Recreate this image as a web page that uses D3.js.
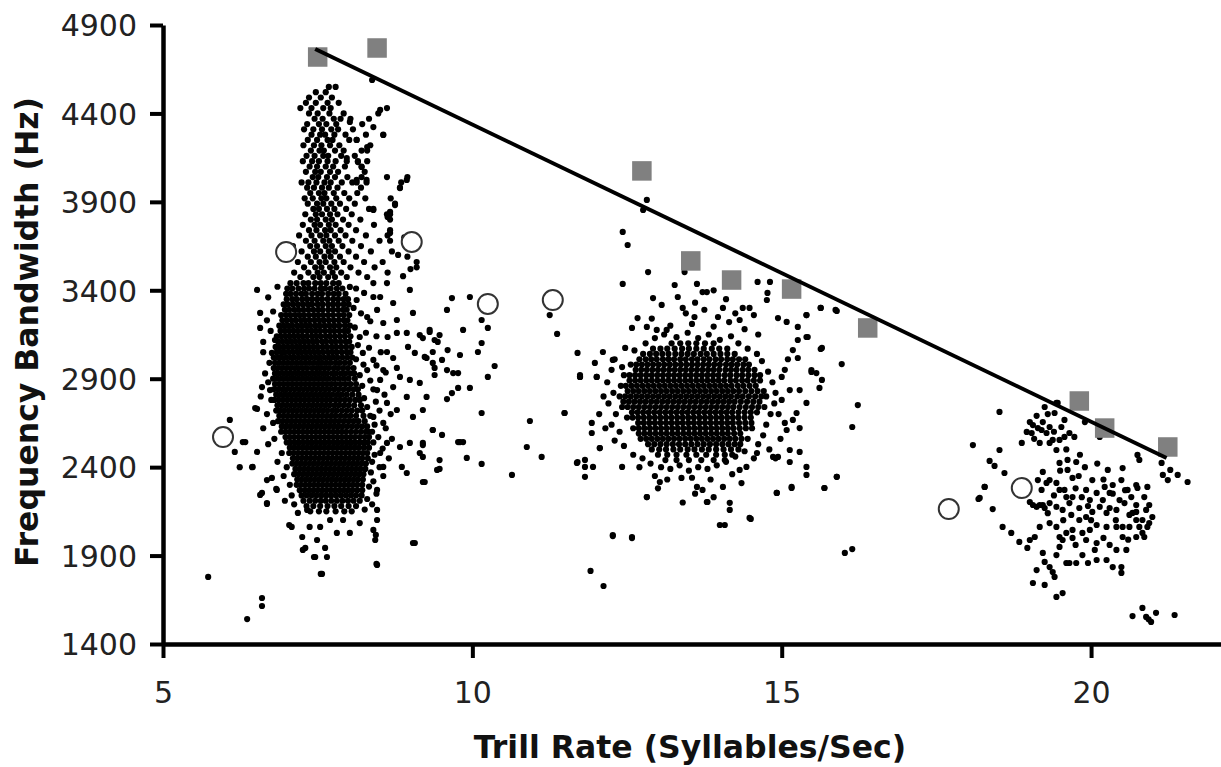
<!DOCTYPE html>
<html><head><meta charset="utf-8">
<script src="https://cdn.jsdelivr.net/npm/d3@7"></script>
<style>html,body{margin:0;padding:0;background:#fff;}svg{display:block;}</style>
</head><body>
<svg id="chart" width="1221" height="767"></svg>
<script>
// ---------- tick labels & titles ----------
const xTicks = [5, 10, 15, 20];
const yTicks = [1400, 1900, 2400, 2900, 3400, 3900, 4400, 4900];
const xTitle = "Trill Rate (Syllables/Sec)";
const yTitle = "Frequency Bandwidth (Hz)";

// ---------- grey squares ----------
const squareX = [7.50, 8.46, 12.74, 13.53, 14.19, 15.16, 16.39, 19.81, 20.22, 21.24];
const squareY = [4719, 4770, 4075, 3566, 3458, 3407, 3187, 2774, 2621, 2514];

// ---------- open circles ----------
const circleX = [5.97, 6.99, 9.02, 10.25, 11.30, 17.70, 18.88];
const circleY = [2570, 3616, 3673, 3323, 3345, 2163, 2282];

// ---------- regression line ----------
const fitX = [7.46, 21.22];
const fitY = [4764, 2452];

// ---------- song dots, rows: [y, x, x, ...] ----------
const westColumnRows = [
[4550,7.68,7.79],[4520,7.47,7.63],[4490,7.36,7.55,7.73],[4460,7.31,7.47,7.66,7.84],
[4430,7.22,7.40,7.59,7.71,8.62],[4400,7.36,7.50,7.69,7.92,8.48],[4370,7.45,7.58,7.76,7.87,8.03,8.33],
[4340,7.33,7.52,7.64,7.80,8.22],[4310,7.28,7.43,7.57,7.72,7.83,8.07],[4280,7.40,7.54,7.62,7.77,7.95,8.28,8.56],
[4250,7.34,7.49,7.66,7.74,8.01,8.13],[4220,7.27,7.44,7.56,7.70,7.85,8.35],[4190,7.39,7.53,7.60,7.78,7.92,8.21,8.30],
[4160,7.32,7.45,7.59,7.67,7.88,8.10],[4130,7.26,7.41,7.52,7.66,7.79,7.97,8.15,8.30],[4100,7.37,7.49,7.63,7.75,7.94,8.21],
[4070,7.31,7.46,7.55,7.70,7.83,8.26],[4040,7.42,7.51,7.65,7.78,7.98,8.21,8.62,8.95],[4010,7.24,7.35,7.48,7.61,7.71,7.89,8.06,8.13,8.29,8.85],
[3980,7.33,7.44,7.57,7.68,7.82,8.20,8.83],[3950,7.38,7.52,7.61,7.76,7.93,8.14],[3920,7.29,7.42,7.56,7.64,7.80,8.01,8.27,8.68],
[3890,7.34,7.49,7.59,7.72,7.86,8.10,8.75],[3860,7.43,7.52,7.65,7.77,7.96,8.33,8.40],[3830,7.30,7.47,7.57,7.70,7.82,8.05,8.62,8.67],
[3800,7.39,7.49,7.63,7.73,7.91,8.19,8.67],[3770,7.26,7.45,7.54,7.68,7.79,8.00,8.41],[3740,7.36,7.48,7.62,7.71,7.87,8.12,8.67],
[3710,7.20,7.40,7.54,7.64,7.78,7.95,8.28,8.63],[3680,7.31,7.45,7.59,7.69,7.84,8.06,8.50,8.67],[3650,7.10,7.38,7.49,7.63,7.73,7.90,8.20,8.92],
[3620,7.24,7.44,7.54,7.68,7.78,8.00,8.36,8.70],[3590,7.05,7.34,7.47,7.61,7.71,7.86,8.12,8.95],[3560,7.18,7.39,7.53,7.63,7.77,7.92,8.25,8.55],
[3530,7.28,7.46,7.56,7.70,7.80,8.03,8.42,9.10],[3500,7.12,7.35,7.50,7.60,7.74,7.88,8.16,8.63],[3475,7.22,7.43,7.53,7.67,7.78,7.97,8.30]
];
const westCoreRows = [
[3440,7.06,7.16,7.27,7.35,7.46,7.55,7.64,7.75,7.84],
[3410,7.01,7.09,7.19,7.28,7.36,7.45,7.55,7.62,7.71,7.81,7.90],
[3380,6.99,7.06,7.15,7.24,7.31,7.41,7.50,7.57,7.67,7.76,7.84,7.95],
[3350,7.00,7.09,7.16,7.25,7.33,7.41,7.49,7.57,7.66,7.75,7.83,7.92,7.99],
[3320,6.95,7.02,7.10,7.18,7.26,7.34,7.41,7.50,7.58,7.67,7.75,7.83,7.92,8.00],
[3290,6.97,7.04,7.12,7.19,7.27,7.35,7.43,7.51,7.58,7.67,7.75,7.83,7.91,7.97],
[3260,6.91,6.99,7.06,7.14,7.21,7.28,7.36,7.44,7.51,7.59,7.67,7.75,7.84,7.92,8.01],
[3230,6.93,7.00,7.08,7.15,7.23,7.30,7.37,7.45,7.53,7.60,7.68,7.76,7.84,7.92,7.98],
[3200,6.88,6.95,7.02,7.09,7.17,7.24,7.31,7.38,7.46,7.53,7.61,7.69,7.77,7.85,7.94,8.02],
[3170,6.90,6.97,7.04,7.11,7.18,7.25,7.33,7.40,7.47,7.54,7.62,7.70,7.77,7.85,7.93,7.99],
[3140,6.84,6.91,6.98,7.05,7.12,7.19,7.26,7.33,7.41,7.48,7.55,7.63,7.70,7.78,7.86,7.94,8.03],
[3110,6.86,6.93,7.00,7.07,7.14,7.21,7.28,7.35,7.42,7.49,7.57,7.64,7.72,7.79,7.87,7.95,8.01],
[3080,6.82,6.88,6.95,7.02,7.09,7.16,7.22,7.29,7.36,7.43,7.50,7.58,7.65,7.73,7.80,7.88,7.96,8.05],
[3050,6.84,6.91,6.97,7.04,7.11,7.18,7.24,7.31,7.38,7.45,7.52,7.59,7.67,7.74,7.81,7.89,7.97,8.03],
[3020,6.79,6.86,6.92,6.99,7.06,7.12,7.19,7.26,7.33,7.40,7.47,7.54,7.61,7.68,7.75,7.82,7.90,7.98,8.06],
[2990,6.81,6.88,6.95,7.02,7.09,7.16,7.23,7.30,7.37,7.44,7.51,7.57,7.64,7.71,7.79,7.86,7.94,8.02],
[2960,6.79,6.85,6.92,6.99,7.06,7.13,7.19,7.26,7.33,7.41,7.48,7.54,7.61,7.68,7.76,7.83,7.91,7.99,8.08],
[2930,6.81,6.88,6.95,7.02,7.09,7.16,7.23,7.30,7.37,7.44,7.51,7.58,7.65,7.73,7.80,7.88,7.95,8.03,8.09],
[2900,6.78,6.85,6.92,6.99,7.06,7.12,7.19,7.26,7.33,7.40,7.47,7.54,7.61,7.68,7.76,7.84,7.92,8.00,8.10],
[2870,6.81,6.88,6.95,7.02,7.09,7.16,7.23,7.30,7.37,7.44,7.51,7.58,7.65,7.72,7.79,7.87,7.95,8.03,8.12],
[2840,6.79,6.86,6.93,6.99,7.06,7.13,7.20,7.27,7.34,7.41,7.48,7.55,7.62,7.69,7.77,7.84,7.92,8.00,8.08,8.15],
[2810,6.83,6.90,6.97,7.04,7.11,7.18,7.25,7.32,7.39,7.46,7.53,7.60,7.67,7.74,7.82,7.89,7.97,8.06,8.16],
[2780,6.80,6.87,6.94,7.01,7.08,7.15,7.22,7.29,7.36,7.43,7.50,7.57,7.64,7.71,7.79,7.86,7.94,8.02,8.11,8.18],
[2750,6.85,6.92,6.99,7.06,7.13,7.20,7.27,7.34,7.41,7.48,7.55,7.62,7.69,7.77,7.84,7.92,8.00,8.09,8.20],
[2720,6.83,6.89,6.96,7.03,7.10,7.17,7.24,7.31,7.38,7.45,7.52,7.59,7.66,7.74,7.81,7.89,7.97,8.05,8.14,8.22],
[2690,6.88,6.95,7.02,7.09,7.16,7.23,7.30,7.37,7.44,7.51,7.58,7.65,7.72,7.79,7.87,7.95,8.03,8.12,8.24],
[2660,6.86,6.93,7.00,7.07,7.14,7.21,7.28,7.35,7.42,7.49,7.56,7.63,7.70,7.77,7.84,7.92,8.00,8.08,8.16,8.26],
[2630,6.92,6.99,7.06,7.13,7.20,7.27,7.34,7.41,7.48,7.55,7.62,7.69,7.76,7.83,7.90,7.98,8.06,8.14,8.22,8.30],
[2600,6.91,6.98,7.05,7.12,7.19,7.26,7.33,7.40,7.47,7.54,7.61,7.68,7.75,7.82,7.89,7.96,8.04,8.12,8.20,8.28,8.33],
[2570,6.98,7.05,7.12,7.19,7.26,7.33,7.40,7.47,7.54,7.61,7.68,7.75,7.82,7.89,7.96,8.03,8.10,8.18,8.26,8.33],
[2540,7.00,7.06,7.13,7.20,7.27,7.34,7.41,7.48,7.55,7.62,7.69,7.76,7.83,7.90,7.97,8.04,8.11,8.18,8.25,8.31],
[2510,7.05,7.12,7.19,7.26,7.33,7.40,7.47,7.54,7.61,7.68,7.75,7.82,7.89,7.96,8.03,8.10,8.17,8.25,8.33],
[2480,7.04,7.11,7.18,7.25,7.32,7.39,7.46,7.53,7.60,7.67,7.74,7.81,7.88,7.95,8.02,8.09,8.16,8.23,8.30],
[2450,7.10,7.17,7.24,7.31,7.38,7.45,7.52,7.59,7.66,7.73,7.80,7.87,7.94,8.01,8.08,8.15,8.22,8.31],
[2420,7.09,7.16,7.23,7.30,7.37,7.44,7.51,7.58,7.65,7.72,7.79,7.86,7.93,8.00,8.07,8.14,8.21,8.28],
[2390,7.14,7.21,7.28,7.35,7.42,7.49,7.56,7.63,7.70,7.77,7.84,7.91,7.98,8.05,8.12,8.19,8.27],
[2360,7.12,7.19,7.26,7.33,7.40,7.47,7.54,7.61,7.68,7.75,7.82,7.89,7.96,8.03,8.10,8.17,8.24],
[2330,7.17,7.24,7.31,7.38,7.45,7.52,7.59,7.66,7.73,7.80,7.87,7.94,8.01,8.08,8.15,8.23],
[2300,7.16,7.23,7.30,7.37,7.44,7.51,7.58,7.65,7.72,7.79,7.86,7.93,8.00,8.07,8.14,8.22],
[2270,7.21,7.29,7.36,7.43,7.50,7.57,7.64,7.71,7.78,7.85,7.92,7.99,8.06,8.14,8.22],
[2240,7.24,7.32,7.40,7.48,7.56,7.64,7.72,7.80,7.88,7.96,8.04,8.12,8.21],
[2210,7.27,7.37,7.46,7.55,7.63,7.72,7.81,7.90,7.99,8.08,8.18],
[2180,7.32,7.43,7.54,7.66,7.77,7.88,8.00,8.12],
[2150,7.38,7.52,7.64,7.79,7.93,8.05]
];
const westScatter = [
[8.99,3402],[9.04,3272],[9.31,3176],[9.39,3119],[9.15,3147],[8.94,3159],[8.78,3159],[8.63,3136],[8.56,3215],
[8.51,3362],[8.40,3362],[8.46,3289],[8.72,3328],[8.78,3232],[8.96,3080],[9.07,3046],[9.23,3023],[9.36,2989],
[8.62,3051],[8.72,3017],[8.78,2961],[8.56,2949],[8.83,2910],[8.99,2893],[9.15,2876],[9.26,2797],[8.94,2797],
[8.72,2853],[8.51,2893],[8.40,3006],[8.30,2949],[8.46,2836],[8.62,2763],[8.78,2723],[9.04,2684],[9.20,2723],
[9.36,2610],[8.40,2684],[8.56,2650],[8.23,3046],[8.18,3136],[8.30,3249],[8.13,3345],[8.40,3441],[8.62,3441],
[8.02,3419],[6.52,3402],[6.57,3272],[6.57,3187],[6.62,3108],[6.76,3046],[6.81,3119],[6.60,2853],[6.49,2734],[6.73,2836],
[6.33,2542],[6.45,2401],[6.52,2486],[6.68,2327],[6.60,2254],[6.68,2197],[6.84,2271],[6.76,2339],
[7.08,2062],[7.18,2141],[7.25,2005],[7.30,1943],[7.46,1892],[7.57,1796],[7.49,1988],[7.62,1943],[7.65,1892],
[7.37,2062],[7.54,2062],[7.70,2101],[7.81,2028],[7.91,2101],[8.02,2028],[8.18,2084],[8.40,2045],[8.43,1988],
[8.46,2158],[8.46,2101],[8.46,1847],[7.33,2158],[7.04,2073],[7.26,1932],[7.44,1892],[7.55,1796],[8.45,1853],[8.44,2017],
[8.62,2537],[8.83,2514],[8.99,2537],[9.15,2480],[9.20,2537],[8.56,2401],[8.86,2401],[8.94,2367],[9.20,2316],
[8.51,2480],[9.43,2384],[8.46,2271],
[9.67,3356],[9.96,3362],[9.59,3289],[9.85,3176],[10.15,3232],[10.25,3187],[9.31,3164],[9.47,3147],[9.44,3108],
[9.20,3130],[9.36,3051],[9.60,3062],[9.80,3034],[10.15,3102],[10.09,3051],[9.26,3017],[9.51,3006],[9.39,2961],
[9.59,2949],[9.69,2932],[9.77,2932],[10.36,2972],[10.25,2910],[9.39,2921],[9.96,2848],[9.77,2848],[9.67,2819],
[9.59,2785],[10.15,2706],[10.93,2661],[11.49,2706],[9.36,2610],[9.51,2582],[9.77,2542],[9.85,2542],[9.20,2525],
[9.91,2452],[10.15,2418],[10.88,2514],[11.12,2458],[9.47,2440],[9.47,2390],[9.20,2458],[9.23,2316],[10.64,2356],
[11.69,2424],[11.25,3260],[11.37,3153],[9.80,2542],[9.07,1971],[9.04,1971],
[8.12,3410],[8.25,3385],[8.08,3300],[8.20,3270],[8.35,3225],[8.10,3190],[8.28,3160],[8.45,3140],[8.15,3090],
[8.33,3075],[8.52,3050],[8.12,3010],[8.24,2980],[8.45,2975],[8.60,2935],[8.18,2920],[8.35,2890],[8.22,2860],
[8.40,2840],[8.58,2810],[8.25,2790],[8.44,2770],[8.30,2740],[8.50,2720],[8.68,2700],[8.35,2690],[8.42,2640],
[8.60,2620],[8.38,2600],[8.48,2570],[8.70,2560],[8.40,2540],[8.55,2505],[8.42,2470],[8.65,2450],[8.38,2430],
[8.50,2400],[8.36,2370],[8.56,2350],[8.40,2320],[8.33,2290],[8.45,2250],[8.30,2220],[8.38,2190],[8.26,2160],
[6.70,3360],[6.85,3420],[6.78,3280],[6.68,3230],[6.74,3170],[6.62,3050],[6.72,2990],[6.65,2930],[6.70,2880],
[6.58,2800],[6.75,2780],[6.68,2700],[6.78,2650],[6.62,2620],[6.80,2560],[6.70,2530],[6.92,2480],[6.85,2430],
[7.00,2400],[6.95,2350],[7.05,2300],[7.08,2240],[7.12,2190],[6.97,2210],
[8.94,4024],[8.83,3978],[8.75,3882],[8.67,3843],[8.67,3724],[8.40,3854],[8.56,4278],[8.51,4420],[8.02,4352],
[8.30,4210],[8.13,4250],[8.15,4125],[8.21,4097],[8.13,4024],[8.29,4024],[7.97,4148],[8.40,4323],[8.38,4589],
[8.63,3815],[8.90,3700],[9.10,3560],[8.80,3600],[8.88,3480],[9.00,3520]
];
const centralCoreRows = [
[3100,13.22,13.36,13.49,13.62,13.76,13.90],
[3070,12.92,13.04,13.15,13.27,13.39,13.50,13.62,13.74,13.87,13.99,14.12],
[3040,12.76,12.87,12.97,13.07,13.17,13.28,13.38,13.48,13.58,13.69,13.79,13.90,14.01,14.12,14.24],
[3010,12.70,12.80,12.89,12.98,13.08,13.17,13.26,13.36,13.45,13.55,13.64,13.74,13.83,13.93,14.02,14.12,14.21,14.31,14.41],
[2980,12.56,12.65,12.74,12.83,12.92,13.01,13.10,13.19,13.28,13.37,13.46,13.55,13.64,13.73,13.82,13.91,14.00,14.10,14.19,14.28,14.38,14.47],
[2950,12.64,12.73,12.82,12.91,13.00,13.09,13.18,13.27,13.36,13.45,13.54,13.63,13.72,13.81,13.90,13.99,14.09,14.18,14.27,14.37,14.46,14.56],
[2920,12.45,12.54,12.63,12.72,12.81,12.90,12.99,13.08,13.17,13.26,13.35,13.44,13.53,13.62,13.71,13.80,13.89,13.98,14.08,14.17,14.27,14.36,14.46,14.56,14.65],
[2890,12.54,12.63,12.72,12.81,12.90,12.99,13.08,13.17,13.26,13.35,13.44,13.53,13.62,13.71,13.80,13.89,13.98,14.07,14.17,14.26,14.36,14.45,14.55,14.65],
[2860,12.40,12.48,12.57,12.66,12.75,12.84,12.93,13.02,13.11,13.20,13.29,13.38,13.47,13.56,13.65,13.74,13.83,13.92,14.01,14.10,14.19,14.29,14.38,14.48,14.58],
[2830,12.51,12.60,12.69,12.78,12.87,12.96,13.05,13.14,13.23,13.32,13.41,13.50,13.59,13.68,13.77,13.86,13.95,14.04,14.13,14.22,14.31,14.41,14.51,14.61,14.71],
[2800,12.38,12.47,12.56,12.65,12.74,12.83,12.92,13.01,13.10,13.19,13.28,13.37,13.46,13.55,13.64,13.73,13.82,13.91,14.00,14.09,14.18,14.28,14.37,14.47,14.57,14.67,14.75],
[2770,12.44,12.53,12.62,12.71,12.80,12.89,12.98,13.07,13.16,13.25,13.34,13.43,13.52,13.61,13.70,13.79,13.88,13.97,14.06,14.15,14.24,14.34,14.44,14.54,14.64],
[2740,12.42,12.51,12.60,12.69,12.78,12.87,12.96,13.05,13.14,13.23,13.32,13.41,13.50,13.59,13.68,13.77,13.86,13.95,14.04,14.13,14.22,14.32,14.42,14.52,14.62,14.72],
[2710,12.58,12.67,12.76,12.85,12.94,13.03,13.12,13.21,13.30,13.39,13.48,13.57,13.66,13.75,13.84,13.93,14.02,14.11,14.20,14.30,14.40,14.50,14.60],
[2680,12.50,12.59,12.68,12.77,12.86,12.95,13.04,13.13,13.22,13.31,13.40,13.49,13.58,13.67,13.76,13.85,13.94,14.03,14.12,14.21,14.30,14.40,14.50],
[2650,12.68,12.77,12.86,12.95,13.04,13.13,13.22,13.31,13.40,13.49,13.58,13.67,13.76,13.85,13.94,14.03,14.12,14.21,14.31,14.41,14.51],
[2620,12.60,12.69,12.78,12.87,12.96,13.05,13.14,13.23,13.32,13.41,13.50,13.59,13.68,13.77,13.86,13.95,14.04,14.13,14.22,14.32,14.42,14.52],
[2590,12.69,12.78,12.87,12.96,13.05,13.14,13.23,13.32,13.41,13.50,13.59,13.68,13.77,13.86,13.95,14.04,14.13,14.23,14.33],
[2560,12.72,12.81,12.90,12.99,13.08,13.17,13.26,13.35,13.44,13.53,13.62,13.71,13.80,13.89,13.98,14.07,14.16,14.25,14.35,14.45],
[2530,12.84,12.94,13.04,13.14,13.24,13.34,13.44,13.54,13.64,13.74,13.84,13.94,14.04,14.14,14.24,14.33],
[2500,12.90,13.02,13.13,13.25,13.36,13.48,13.59,13.71,13.82,13.94,14.06,14.18,14.30],
[2470,13.00,13.15,13.30,13.46,13.62,13.78,13.94,14.08,14.20],
[2440,13.12,13.30,13.50,13.70,13.90,14.08]
];
const centralScatter = [
[12.43,3730],[12.51,3656],[12.84,3503],[12.43,3436],[13.43,3503],[13.63,3436],[13.27,3430],[13.72,3390],[13.79,3390],
[13.32,3362],[14.61,3447],[14.81,3447],[14.77,3385],[14.76,3345],[12.92,3356],[13.06,3317],[13.40,3300],[13.59,3249],
[14.37,3300],[14.48,3300],[14.05,3300],[13.97,3249],[14.32,3232],[14.94,3243],[15.08,3221],[15.26,3193],[15.40,3260],
[15.63,3300],[15.87,3289],[12.67,3243],[12.58,3187],[12.82,3193],[12.98,3176],[13.14,3176],[11.70,3046],[11.98,2989],
[11.74,2921],[11.49,2706],[12.01,2910],[12.11,3051],[12.27,3006],[12.42,2966],[12.47,3074],[15.42,3136],[15.26,3119],
[15.18,3062],[15.26,3017],[15.65,3074],[15.48,2938],[15.65,2893],[15.61,2848],[15.00,2910],[15.13,2836],[15.29,2836],
[15.40,2763],[15.24,2706],[15.18,2667],[15.08,2610],[15.29,2621],[15.13,2497],[15.29,2486],[15.13,2429],[15.40,2401],
[15.40,2356],[15.16,2288],[14.92,2254],[15.69,2282],[15.89,2345],[14.86,2458],[14.94,2458],
[11.70,2429],[11.82,2401],[11.95,2401],[11.82,2345],[12.06,2508],[11.93,2593],[12.42,2401],[12.82,2231],[13.63,2288],
[13.80,2203],[14.05,2288],[14.16,2198],[14.16,2158],[14.08,2073],[14.00,2073],[14.48,2113],[12.27,2016],[12.58,2005],
[13.38,2339],[13.03,2316],[13.72,2271],[14.32,2384],[14.43,2401],[14.60,2480],[11.91,1813],[12.12,1728],[12.82,2231],
[13.79,2203],[14.50,2107],[14.92,2254],[15.16,2282],[11.74,2910],[12.01,2910],[11.93,2650],[11.82,2441],[12.06,2508],
[12.95,3130],[13.10,3150],[13.30,3135],[13.48,3160],[13.65,3130],[13.82,3150],[14.00,3120],[14.18,3140],[14.30,3100],
[14.45,3070],[14.60,3040],[12.80,3100],[12.62,3060],[13.20,3200],[13.55,3210],[13.90,3195],[14.15,3220],[14.40,3180],
[14.62,3150],[12.90,3240],[13.45,3270],[13.75,3290],[14.25,3270],[14.55,3260],[13.60,3330],[14.10,3350],[13.90,3400],
[12.30,3010],[12.25,2950],[12.18,2880],[12.28,2820],[12.20,2760],[12.32,2700],[12.25,2640],[12.38,2600],[12.30,2550],
[12.45,2520],[12.12,2800],[12.05,2700],[12.15,2620],
[14.68,3000],[14.78,2940],[14.85,2880],[14.90,2820],[14.88,2760],[14.82,2700],[14.75,2640],[14.70,2580],[14.62,2530],
[14.95,2700],[15.00,2780],[15.05,2650],[14.98,2560],[14.80,2500],[14.90,2450],[15.05,2950],[15.10,3010],
[12.60,2470],[12.75,2450],[12.88,2420],[13.05,2400],[13.20,2390],[13.35,2410],[13.50,2380],[13.65,2400],[13.80,2390],
[13.95,2410],[14.10,2430],[14.25,2460],[14.40,2490],[14.55,2450],[12.70,2400],[12.95,2350],[13.15,2330],[13.55,2340],
[13.85,2330],[14.20,2360],[14.35,2310],[13.00,2280],[13.60,2250],[13.40,2200],[13.90,2230],
[12.82,3911],[12.76,3854],[15.40,3260],[15.63,3300],[15.89,3283],[15.63,3068],[15.97,2983],[15.40,3136],[15.48,2949],
[15.56,2932],[16.23,2751],[16.14,2627],[15.89,2345],[15.69,2282],[16.02,1915],[16.14,1937]
];
const eastDots = [
[18.52,2712],[18.09,2525],[18.52,2497],[18.36,2435],[18.44,2407],[18.60,2367],[18.28,2288],[18.18,2220],[18.41,2163],
[18.57,2062],[18.71,2028],[18.84,1977],[19.01,1988],[18.97,1943],[18.88,2537],[19.01,2655],[19.04,2593],[19.14,2621],
[19.22,2655],[19.28,2593],[19.33,2627],[19.41,2706],[19.46,2763],[19.25,2740],[19.38,2554],[19.49,2554],[19.57,2571],
[19.65,2593],[19.73,2571],[19.44,2497],[19.33,2537],[19.17,2537],[19.52,2627],[19.57,2667],[19.90,2655],[20.14,2571],
[18.96,2599],[19.06,2638],[19.62,2441],[19.76,2429],[19.62,2384],[19.49,2424],[19.70,2339],[19.22,2373],[19.33,2327],
[19.14,2327],[19.28,2311],[19.20,2271],[19.01,2203],[19.12,2175],[19.22,2186],[19.33,2197],[19.44,2175],[19.57,2271],
[19.60,2231],[19.70,2231],[19.65,2197],[19.54,2158],[19.68,2130],[19.81,2169],[19.92,2271],[19.98,2214],[20.09,2254],
[20.02,2327],[20.22,2288],[20.30,2254],[20.27,2384],[20.35,2299],[20.49,2327],[20.46,2214],[20.19,2214],[20.14,2175],
[20.25,2141],[20.41,2158],[20.54,2197],[20.62,2130],[20.73,2147],[20.73,2101],[20.83,2101],[20.89,2158],[20.99,2118],
[20.91,2062],[20.83,2028],[20.73,2005],[20.51,2062],[20.41,2062],[20.25,2062],[20.09,2073],[19.98,2045],[19.86,2028],
[19.70,2045],[19.60,2028],[19.54,1988],[19.49,1949],[19.44,1903],[19.60,1858],[19.65,1858],[19.76,1858],[19.86,1903],
[20.06,1932],[19.95,1858],[20.09,1875],[20.25,1875],[20.41,1932],[20.57,1932],[20.35,1835],[20.49,1802],[20.49,1835],
[19.33,1835],[19.38,1807],[19.41,1779],[19.12,1818],[19.06,1745],[19.25,1734],[19.44,1666],[19.54,1688],[19.22,1915],
[19.25,1864],[19.17,2186],[19.06,2186],[19.25,2169],[19.92,2118],[19.81,2101],[19.92,1988],[20.09,1971],[20.51,2005],
[20.62,2062],[20.78,2062],[20.67,2141],[20.73,2186],[20.94,2084],[20.86,2005],[20.94,2186],[20.75,2282],[20.91,2288],
[20.86,2231],[20.73,2299],[21.16,2356],[21.28,2384],[21.24,2327],[21.40,2356],[21.56,2316],[21.14,2424],[20.78,2441],
[20.75,2469],[20.51,2395],[20.59,2271],[20.65,2231],[20.30,2169],[20.02,2147],[19.44,2311],[19.49,2271],[19.33,2084],
[19.44,2062],[19.49,2005],[19.17,2062],[19.09,2005],
[20.67,1558],[20.83,1604],[20.89,1553],[20.97,1525],[21.05,1576],[21.35,1564],[20.93,1540],
[19.44,2763],[19.30,2700],[19.12,2690],[19.20,2610],[19.08,2560],[19.40,2600],[19.60,2500],[19.82,2470],
[19.50,2380],[19.80,2350],[19.90,2400],[20.10,2420],[20.20,2330],[19.40,2240],[19.75,2280],[20.35,2250],
[19.85,2230],[20.00,2100],[20.40,2100],[19.30,2140],[19.55,2100],[20.20,2000],[20.60,1990],[19.75,1960],
[19.70,2000],[20.30,1960],[19.95,2180],[20.55,2270],[18.20,2226],[18.28,2288]
];
const strayDots = [
[5.73,1779],[6.36,1541],[6.60,1660],[6.60,1615],[6.52,2729],[6.08,2667],[6.16,2486],[6.24,2400],[6.44,2400],
[6.57,2243],[6.68,2192],[6.83,2277],[6.29,2542],[11.74,2910],[12.58,1999],[12.27,2010]
];

// ---------- build ----------
const x = d3.scaleLinear().domain([5, 22.1]).range([163, 1221]);
const y = d3.scaleLinear().domain([1400, 4900]).range([644, 25]);
const svg = d3.select("#chart");
const FONT = "'DejaVu Sans', Verdana, sans-serif";

const dots = [];
[westColumnRows, westCoreRows, centralCoreRows].forEach(rows =>
  rows.forEach(r => r.slice(1).forEach(v => dots.push([v, r[0]]))));
[westScatter, centralScatter, eastDots, strayDots].forEach(list => list.forEach(p => dots.push(p)));

svg.append("g").selectAll("circle").data(dots).join("circle")
  .attr("cx", d => x(d[0])).attr("cy", d => y(d[1])).attr("r", 3.1).attr("fill", "#000");

svg.append("g").selectAll("circle").data(circleX.map((v, i) => [v, circleY[i]])).join("circle")
  .attr("cx", d => x(d[0])).attr("cy", d => y(d[1])).attr("r", 10)
  .attr("fill", "#fff").attr("stroke", "#333").attr("stroke-width", 2);

const sq = 19.5;
svg.append("g").selectAll("rect").data(squareX.map((v, i) => [v, squareY[i]])).join("rect")
  .attr("x", d => x(d[0]) - sq / 2).attr("y", d => y(d[1]) - sq / 2)
  .attr("width", sq).attr("height", sq).attr("fill", "#808080");

svg.append("path").datum(fitX.map((v, i) => [v, fitY[i]]))
  .attr("d", d3.line().x(d => x(d[0])).y(d => y(d[1])))
  .attr("stroke", "#000").attr("stroke-width", 4).attr("fill", "none");

const gy = svg.append("g").attr("transform", "translate(163,0)")
  .call(d3.axisLeft(y).tickValues(yTicks).tickSize(13).tickSizeOuter(0).tickPadding(13).tickFormat(d3.format("d")));
const gx = svg.append("g").attr("transform", "translate(0,644)")
  .call(d3.axisBottom(x).tickValues(xTicks).tickSize(14).tickSizeOuter(0).tickFormat(d3.format("d")));
[gx, gy].forEach(g => {
  g.select(".domain").attr("stroke", "#000").attr("stroke-width", 4.5);
  g.selectAll(".tick line").attr("stroke", "#000").attr("stroke-width", 4);
  g.selectAll("text").attr("font-family", FONT).attr("font-size", 30).attr("fill", "#222");
});
gy.selectAll("text").attr("dy", "0.36em");
gx.selectAll("text").attr("y", 59).attr("dy", 0);

svg.append("text").attr("x", 690).attr("y", 758).attr("text-anchor", "middle")
  .attr("font-family", FONT).attr("font-weight", "bold").attr("font-size", 31.5).attr("fill", "#111").text(xTitle);
svg.append("text").attr("transform", "translate(38,332) rotate(-90)").attr("text-anchor", "middle")
  .attr("font-family", FONT).attr("font-weight", "bold").attr("font-size", 31.5).attr("fill", "#111").text(yTitle);
</script>
</body></html>
